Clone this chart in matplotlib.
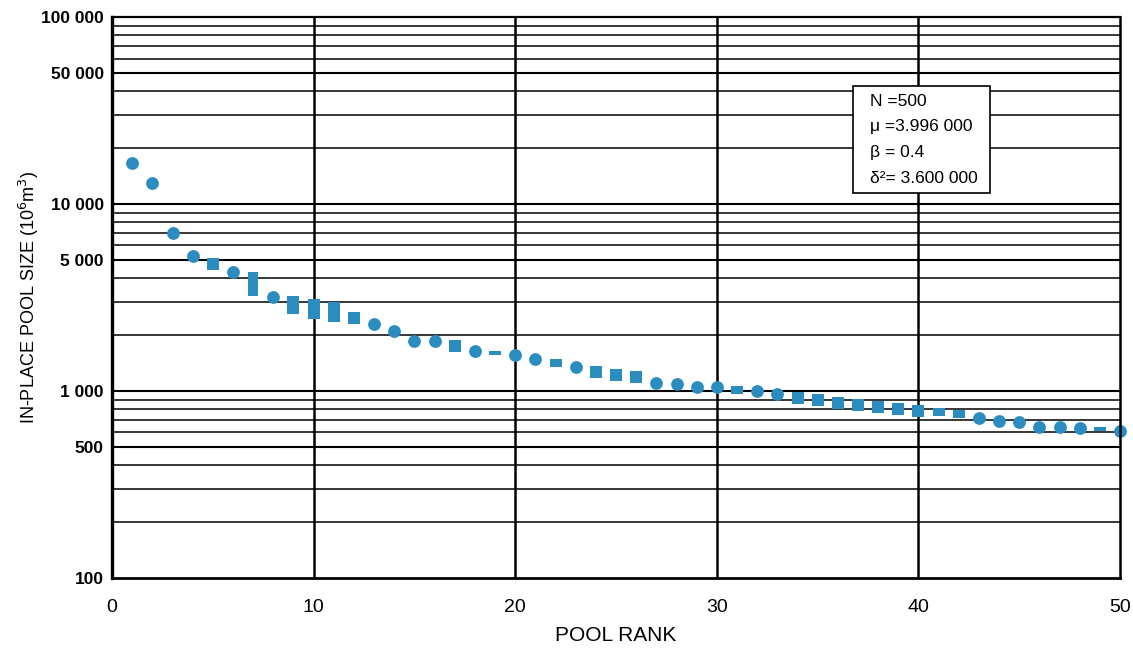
import numpy as np
import matplotlib
matplotlib.use('Agg')
import matplotlib.pyplot as plt
from matplotlib.patches import Rectangle
from matplotlib.ticker import FixedLocator, NullFormatter

plt.rcParams['font.family'] = ['Liberation Sans', 'DejaVu Sans']

# Pool ranks and in-place pool sizes (10^6 m^3)
pool_rank = list(range(1, 51))
pool_size = [16560, 12950, 7000, 5270, 4780, 4325, 3730, 3185, 2885, 2760,
             2630, 2470, 2280, 2095, 1860, 1855, 1745, 1643, 1603, 1560,
             1479, 1418, 1348, 1268, 1219, 1184, 1108, 1090, 1046, 1046,
             1012, 1000, 964, 921, 895, 866, 842, 824, 801, 785,
             769, 750, 720, 693, 685, 644, 644, 636, 624, 611]
# symbol used for each pool
pool_symbol = ['o', 'o', 'o', 'o', 's', 'o', 't', 'o', 'm', 'l',
               'l', 's', 'o', 'o', 'o', 'o', 's', 'o', 'd', 'o',
               'o', 'r', 'o', 's', 's', 's', 'o', 'o', 'o', 'o',
               'r', 'o', 'o', 's', 's', 's', 's', 's', 's', 's',
               'r', 'r', 'o', 'o', 'o', 'o', 'o', 'o', 'd', 'o']

stats_lines = ['N =500', '\u03bc =3.996 000', '\u03b2 = 0.4', '\u03b4\u00b2= 3.600 000']

y_ticks = [100, 500, 1000, 5000, 10000, 50000, 100000]
y_tick_labels = ['100', '500', '1 000', '5 000', '10 000', '50 000', '100 000']
x_ticks = [0, 10, 20, 30, 40, 50]

color = '#2a8cbf'


def rect_marker(w, h):
    return [(-w / 2, -h / 2), (w / 2, -h / 2), (w / 2, h / 2), (-w / 2, h / 2), (-w / 2, -h / 2)]


# marker shape, size (pt) for each symbol
symbols = {
    'o': ('o', 9.2),
    's': (rect_marker(11, 11), 8.6),
    'r': (rect_marker(11, 7), 8.6),
    'd': (rect_marker(11, 4.5), 8.6),
    'm': (rect_marker(11, 16), 12.4),
    'l': (rect_marker(11, 19), 14.6),
    't': (rect_marker(10, 22), 16.8),
}

fig = plt.figure(figsize=(11.33, 6.5), dpi=100)
ax = fig.add_axes([0.0989, 0.1108, 0.8897, 0.863])
ax.set_yscale('log')
ax.set_xlim(0, 50)
ax.set_ylim(100, 100000)

# horizontal grid at every log step
for dec in [100, 1000, 10000]:
    for k in range(1, 10):
        v = dec * k
        if v <= 100:
            continue
        lw = 1.5 if k in (1, 5) else 1.1
        ax.axhline(v, color='black', lw=lw, zorder=1)
for xv in [10, 20, 30, 40]:
    ax.axvline(xv, color='black', lw=1.8, zorder=1)

for sym in symbols:
    xs = [r for r, s in zip(pool_rank, pool_symbol) if s == sym]
    ys = [v for v, s in zip(pool_size, pool_symbol) if s == sym]
    marker, ms = symbols[sym]
    ax.plot(xs, ys, linestyle='none', marker=marker, markersize=ms,
            color=color, markeredgewidth=0, zorder=3, clip_on=False)

ax.yaxis.set_major_locator(FixedLocator(y_ticks))
ax.yaxis.set_minor_formatter(NullFormatter())
ax.set_yticklabels(y_tick_labels, fontweight='bold', fontsize=12.5)
ax.set_xticks(x_ticks)
ax.set_xticklabels([str(t) for t in x_ticks], fontsize=14)
ax.tick_params(axis='both', which='both', length=0)
ax.tick_params(axis='y', pad=6)
ax.tick_params(axis='x', pad=15)

for side, lw in [('left', 2.4), ('bottom', 2.0), ('right', 1.8), ('top', 1.6)]:
    ax.spines[side].set_linewidth(lw)
    ax.spines[side].set_zorder(4)

ax.set_xlabel('POOL RANK', fontsize=15, labelpad=7)
ax.set_ylabel('IN-PLACE POOL SIZE (10$^{6}$m$^{3}$)', fontsize=13, labelpad=0)

# statistics box
ax.add_patch(Rectangle((0.735, 0.686), 0.136, 0.191, transform=ax.transAxes,
                       facecolor='white', edgecolor='black', lw=1.2, zorder=5))
for i, line in enumerate(stats_lines):
    ax.text(0.752, 0.850 - i * 0.0459, line, transform=ax.transAxes,
            fontsize=12.5, va='center', ha='left', zorder=6)

fig.savefig('out.png', dpi=100)
